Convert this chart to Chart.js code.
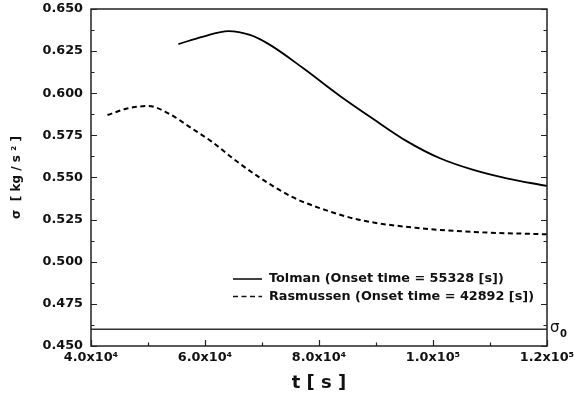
<!DOCTYPE html>
<html>
<head>
<meta charset="utf-8">
<script src="https://cdn.jsdelivr.net/npm/chart.js@4.4.1/dist/chart.umd.min.js"></script>
<style>
  html, body { margin: 0; padding: 0; background: #fff; }
  #wrap { width: 575px; height: 403px; }
</style>
</head>
<body>
<div id="wrap"><canvas id="chart" width="575" height="403"></canvas></div>
<script>
// values
const tolmanT     = [55328, 59700, 64090, 67890, 71400, 77250, 83680, 89530, 95380, 101230, 107080, 112930, 120000];
const tolmanSigma = [0.6292, 0.6336, 0.6369, 0.6346, 0.6287, 0.6148, 0.5984, 0.5847, 0.5716, 0.5614, 0.5545, 0.5495, 0.5450];

const rasT     = [42892, 46550, 50050, 53560, 57660, 61170, 65260, 69350, 75200, 80000, 87190, 97720, 108250, 120000];
const rasSigma = [0.5871, 0.5911, 0.5924, 0.5881, 0.5792, 0.5713, 0.5604, 0.5505, 0.5386, 0.5320, 0.5248, 0.5199, 0.5175, 0.5163];

const sigma0 = 0.46;
const sigma0T = [40000, 120000];

const xTicks = [40000, 60000, 80000, 100000, 120000];
const xTickLabels = ['4.0x10⁴', '6.0x10⁴', '8.0x10⁴', '1.0x10⁵', '1.2x10⁵'];
const yTicks = [0.45, 0.475, 0.5, 0.525, 0.55, 0.575, 0.6, 0.625, 0.65];

const FONT = "'DejaVu Sans', Verdana, sans-serif";

function pts(xs, ys) {
  return xs.map((x, i) => ({ x: x, y: ys[i] }));
}

// frame, inward ticks (major + minor), sigma0 label
const framePlugin = {
  id: 'frame',
  afterDraw(chart) {
    const { ctx, chartArea: a, scales } = chart;
    const xs = scales.x, ys = scales.y;
    ctx.save();
    ctx.strokeStyle = '#222';
    ctx.lineWidth = 1.5;
    ctx.strokeRect(a.left, a.top, a.right - a.left, a.bottom - a.top);

    ctx.lineWidth = 1.2;
    ctx.beginPath();
    for (let v = xTicks[0]; v <= xTicks[xTicks.length - 1]; v += 10000) {
      const px = Math.round(xs.getPixelForValue(v)) + 0.5;
      const len = xTicks.includes(v) ? 6 : 3.5;
      ctx.moveTo(px, a.bottom);
      ctx.lineTo(px, a.bottom - len);
    }
    for (let i = 0; i < yTicks.length; i++) {
      const marks = [yTicks[i]];
      if (i < yTicks.length - 1) marks.push((yTicks[i] + yTicks[i + 1]) / 2);
      marks.forEach((v, k) => {
        const py = Math.round(ys.getPixelForValue(v)) + 0.5;
        const len = k === 0 ? 6 : 3.5;
        ctx.moveTo(a.left, py);
        ctx.lineTo(a.left + len, py);
        ctx.moveTo(a.right, py);
        ctx.lineTo(a.right - len, py);
      });
    }
    ctx.stroke();

    // sigma0 label at right of the plot
    const y0 = ys.getPixelForValue(sigma0);
    ctx.fillStyle = '#111';
    ctx.textBaseline = 'alphabetic';
    ctx.textAlign = 'left';
    ctx.font = '15px ' + FONT;
    ctx.fillText('σ', a.right + 3, y0 + 3);
    ctx.font = 'bold 10px ' + FONT;
    ctx.fillText('0', a.right + 13, y0 + 8);
    ctx.restore();
  }
};

// legend drawn inside the plot, lower right
const legendPlugin = {
  id: 'innerLegend',
  afterDatasetsDraw(chart) {
    const { ctx, chartArea: a } = chart;
    const items = chart.data.datasets.filter(d => d.label);
    ctx.save();
    ctx.font = 'bold 12.8px ' + FONT;
    ctx.fillStyle = '#111';
    ctx.textBaseline = 'middle';
    items.forEach((d, i) => {
      const y = a.top + 270 + i * 17.5;
      const x0 = a.left + 142;
      ctx.strokeStyle = '#111';
      ctx.lineWidth = 1.6;
      ctx.setLineDash(d.borderDash || []);
      ctx.beginPath();
      ctx.moveTo(x0, y);
      ctx.lineTo(x0 + 29, y);
      ctx.stroke();
      ctx.setLineDash([]);
      ctx.fillText(d.label, x0 + 36, y);
    });
    ctx.restore();
  }
};

new Chart(document.getElementById('chart'), {
  type: 'line',
  data: {
    datasets: [
      {
        data: pts(sigma0T, [sigma0, sigma0]),
        borderColor: '#333',
        borderWidth: 1.5,
        pointRadius: 0,
        tension: 0,
      },
      {
        label: 'Tolman (Onset time = 55328 [s])',
        data: pts(tolmanT, tolmanSigma),
        borderColor: '#000',
        borderWidth: 1.8,
        pointRadius: 0,
        cubicInterpolationMode: 'monotone',
      },
      {
        label: 'Rasmussen (Onset time = 42892 [s])',
        data: pts(rasT, rasSigma),
        borderColor: '#000',
        borderWidth: 2,
        borderDash: [5, 3.5],
        pointRadius: 0,
        cubicInterpolationMode: 'monotone',
      },
    ],
  },
  options: {
    responsive: false,
    animation: false,
    devicePixelRatio: 1,
    layout: { padding: { top: 9, right: 28, left: 0, bottom: 0 } },
    plugins: { legend: { display: false }, tooltip: { enabled: false } },
    scales: {
      x: {
        type: 'linear',
        min: 40000, max: 120000,
        grid: { display: false, drawTicks: false },
        border: { display: false },
        ticks: {
          stepSize: 20000,
          padding: 4,
          maxRotation: 0,
          color: '#111',
          font: { family: FONT, size: 12.8, weight: 'bold' },
          callback: (v) => {
            const i = xTicks.indexOf(v);
            return i >= 0 ? xTickLabels[i] : '';
          },
        },
        title: {
          display: true,
          text: 't [ s ]',
          color: '#111',
          font: { family: FONT, size: 18, weight: 'bold' },
          padding: { top: 0, bottom: 9 },
        },
        afterFit: (s) => { s.height = 57; s.paddingLeft = 0; s.paddingRight = 0; },
      },
      y: {
        min: 0.45, max: 0.65,
        grid: { display: false, drawTicks: false },
        border: { display: false },
        ticks: {
          stepSize: 0.025,
          padding: 8,
          color: '#111',
          font: { family: FONT, size: 12.8, weight: 'bold' },
          callback: (v) => v.toFixed(3),
        },
        title: {
          display: true,
          text: 'σ  [ kg / s ² ]',
          color: '#111',
          font: { family: FONT, size: 12, weight: 'bold' },
          padding: { top: 10, bottom: 0 },
        },
        afterFit: (s) => { s.width = 91; s.paddingTop = 0; s.paddingBottom = 0; },
      },
    },
  },
  plugins: [framePlugin, legendPlugin],
});
</script>
</body>
</html>
